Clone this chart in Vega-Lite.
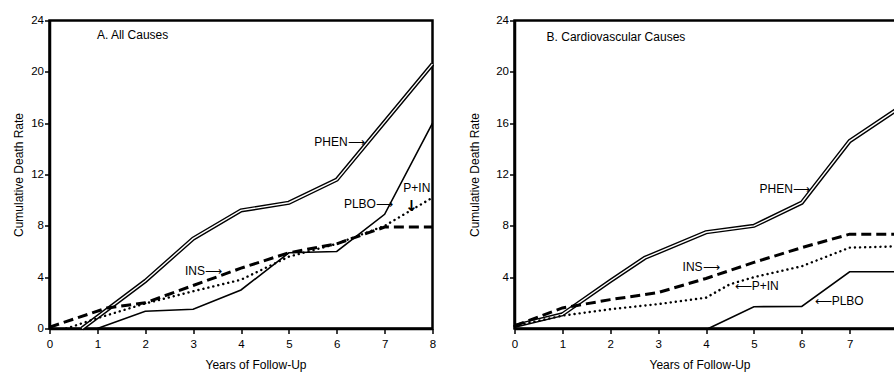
{
  "$schema": "https://vega.github.io/schema/vega-lite/v6.json",
  "background": "white",
  "padding": {"left": 10.5, "top": 12.5, "right": 0, "bottom": 0},
  "spacing": 82,
  "bounds": "flush",
  "config": {
    "font": "Liberation Sans",
    "view": {"stroke": "black", "strokeWidth": 2.5},
    "axis": {
      "grid": false,
      "domainColor": "black",
      "domainWidth": 2.5,
      "tickColor": "black",
      "tickWidth": 1.5,
      "tickSize": 5,
      "labelColor": "black",
      "labelFont": "Liberation Sans",
      "labelFontSize": 11.5,
      "titleColor": "black",
      "titleFont": "Liberation Sans",
      "titleFontSize": 12,
      "titleFontWeight": "normal",
      "labelFlush": false,
      "labelOverlap": false
    },
    "axisX": {"labelPadding": 5, "titlePadding": 9, "labelAngle": 0},
    "axisY": {"labelPadding": 1, "titlePadding": 5}
  },
  "datasets": {
    "curves": [
      {"panel": "A", "series": "PHEN", "x": 0.68, "y": 0},
      {"panel": "A", "series": "PHEN", "x": 1, "y": 0.9},
      {"panel": "A", "series": "PHEN", "x": 2, "y": 3.7},
      {"panel": "A", "series": "PHEN", "x": 3, "y": 7.0},
      {"panel": "A", "series": "PHEN", "x": 4, "y": 9.2},
      {"panel": "A", "series": "PHEN", "x": 5, "y": 9.8},
      {"panel": "A", "series": "PHEN", "x": 6, "y": 11.6},
      {"panel": "A", "series": "PHEN", "x": 7, "y": 16.1},
      {"panel": "A", "series": "PHEN", "x": 8, "y": 20.6},
      {"panel": "A", "series": "PLBO", "x": 1, "y": 0},
      {"panel": "A", "series": "PLBO", "x": 2, "y": 1.35},
      {"panel": "A", "series": "PLBO", "x": 3, "y": 1.5},
      {"panel": "A", "series": "PLBO", "x": 4, "y": 3.0},
      {"panel": "A", "series": "PLBO", "x": 5, "y": 5.9},
      {"panel": "A", "series": "PLBO", "x": 6, "y": 6.0},
      {"panel": "A", "series": "PLBO", "x": 7, "y": 8.9},
      {"panel": "A", "series": "PLBO", "x": 8, "y": 16.0},
      {"panel": "A", "series": "INS", "x": 0, "y": 0.1},
      {"panel": "A", "series": "INS", "x": 1.2, "y": 1.6},
      {"panel": "A", "series": "INS", "x": 2, "y": 2.0},
      {"panel": "A", "series": "INS", "x": 3, "y": 3.35},
      {"panel": "A", "series": "INS", "x": 4, "y": 4.7},
      {"panel": "A", "series": "INS", "x": 5, "y": 5.9},
      {"panel": "A", "series": "INS", "x": 6, "y": 6.6},
      {"panel": "A", "series": "INS", "x": 7, "y": 7.9},
      {"panel": "A", "series": "INS", "x": 8, "y": 7.9},
      {"panel": "A", "series": "P+IN", "x": 0.35, "y": 0},
      {"panel": "A", "series": "P+IN", "x": 1, "y": 0.8},
      {"panel": "A", "series": "P+IN", "x": 2, "y": 1.95},
      {"panel": "A", "series": "P+IN", "x": 3, "y": 2.9},
      {"panel": "A", "series": "P+IN", "x": 4, "y": 3.8},
      {"panel": "A", "series": "P+IN", "x": 5, "y": 5.6},
      {"panel": "A", "series": "P+IN", "x": 6, "y": 6.6},
      {"panel": "A", "series": "P+IN", "x": 7, "y": 8.0},
      {"panel": "A", "series": "P+IN", "x": 8, "y": 10.2},
      {"panel": "B", "series": "PHEN", "x": 0, "y": 0.2},
      {"panel": "B", "series": "PHEN", "x": 1, "y": 1.1},
      {"panel": "B", "series": "PHEN", "x": 2, "y": 3.7},
      {"panel": "B", "series": "PHEN", "x": 2.72, "y": 5.5},
      {"panel": "B", "series": "PHEN", "x": 4, "y": 7.5},
      {"panel": "B", "series": "PHEN", "x": 5, "y": 8.0},
      {"panel": "B", "series": "PHEN", "x": 6, "y": 9.8},
      {"panel": "B", "series": "PHEN", "x": 7, "y": 14.6},
      {"panel": "B", "series": "PHEN", "x": 8, "y": 17.1},
      {"panel": "B", "series": "PLBO", "x": 4.05, "y": 0},
      {"panel": "B", "series": "PLBO", "x": 5, "y": 1.7},
      {"panel": "B", "series": "PLBO", "x": 6, "y": 1.72},
      {"panel": "B", "series": "PLBO", "x": 7, "y": 4.42},
      {"panel": "B", "series": "PLBO", "x": 8, "y": 4.42},
      {"panel": "B", "series": "INS", "x": 0, "y": 0.2},
      {"panel": "B", "series": "INS", "x": 1, "y": 1.6},
      {"panel": "B", "series": "INS", "x": 2, "y": 2.25},
      {"panel": "B", "series": "INS", "x": 3, "y": 2.8},
      {"panel": "B", "series": "INS", "x": 4, "y": 3.9},
      {"panel": "B", "series": "INS", "x": 5, "y": 5.15},
      {"panel": "B", "series": "INS", "x": 6, "y": 6.3},
      {"panel": "B", "series": "INS", "x": 7, "y": 7.35},
      {"panel": "B", "series": "INS", "x": 8, "y": 7.35},
      {"panel": "B", "series": "P+IN", "x": 0, "y": 0.2},
      {"panel": "B", "series": "P+IN", "x": 1, "y": 1.0},
      {"panel": "B", "series": "P+IN", "x": 2, "y": 1.5},
      {"panel": "B", "series": "P+IN", "x": 3, "y": 1.9},
      {"panel": "B", "series": "P+IN", "x": 4, "y": 2.4},
      {"panel": "B", "series": "P+IN", "x": 4.5, "y": 3.45},
      {"panel": "B", "series": "P+IN", "x": 5, "y": 4.0},
      {"panel": "B", "series": "P+IN", "x": 6, "y": 4.85},
      {"panel": "B", "series": "P+IN", "x": 7, "y": 6.3},
      {"panel": "B", "series": "P+IN", "x": 8, "y": 6.4}
    ],
    "notes": [
      {"panel": "A", "kind": "text", "x": 0.99, "y": 22.9, "label": "A. All Causes"},
      {"panel": "A", "kind": "text", "x": 5.53, "y": 14.5, "label": "PHEN⟶"},
      {"panel": "A", "kind": "text", "x": 6.15, "y": 9.73, "label": "PLBO⟶"},
      {"panel": "A", "kind": "text", "x": 7.39, "y": 10.95, "label": "P+IN"},
      {"panel": "A", "kind": "arrow", "x": 7.43, "y": 9.55, "label": "↓"},
      {"panel": "A", "kind": "text", "x": 2.83, "y": 4.46, "label": "INS⟶"},
      {"panel": "B", "kind": "text", "x": 0.67, "y": 22.7, "label": "B. Cardiovascular Causes"},
      {"panel": "B", "kind": "text", "x": 5.12, "y": 10.87, "label": "PHEN⟶"},
      {"panel": "B", "kind": "text", "x": 3.51, "y": 4.77, "label": "INS⟶"},
      {"panel": "B", "kind": "text", "x": 4.6, "y": 3.35, "label": "⟵P+IN"},
      {"panel": "B", "kind": "text", "x": 6.27, "y": 2.18, "label": "⟵PLBO"}
    ]
  },
  "hconcat": [
    {
      "width": 383,
      "height": 308,
      "encoding": {
        "x": {"field": "x", "type": "quantitative", "scale": {"domain": [0, 8], "nice": false, "zero": false},
              "axis": {"title": "Years of Follow-Up", "values": [0, 1, 2, 3, 4, 5, 6, 7, 8], "format": "d", "titleX": 206}},
        "y": {"field": "y", "type": "quantitative", "scale": {"domain": [0, 24], "nice": false},
              "axis": {"title": "Cumulative Death Rate", "values": [0, 4, 8, 12, 16, 20, 24], "format": "d"}}
      },
      "layer": [
        {"data": {"name": "curves"}, "transform": [{"filter": "datum.panel === 'A' && datum.series === 'PHEN'"}],
         "mark": {"type": "line", "color": "black", "strokeWidth": 4.2}},
        {"data": {"name": "curves"}, "transform": [{"filter": "datum.panel === 'A' && datum.series === 'PHEN'"}],
         "mark": {"type": "line", "color": "white", "strokeWidth": 1.4}},
        {"data": {"name": "curves"}, "transform": [{"filter": "datum.panel === 'A' && datum.series === 'PLBO'"}],
         "mark": {"type": "line", "color": "black", "strokeWidth": 1.6}},
        {"data": {"name": "curves"}, "transform": [{"filter": "datum.panel === 'A' && datum.series === 'INS'"}],
         "mark": {"type": "line", "color": "black", "strokeWidth": 3, "strokeDash": [10, 5]}},
        {"data": {"name": "curves"}, "transform": [{"filter": "datum.panel === 'A' && datum.series === 'P+IN'"}],
         "mark": {"type": "line", "color": "black", "strokeWidth": 2.4, "strokeDash": [0.1, 5], "strokeCap": "round"}},
        {"data": {"name": "notes"}, "transform": [{"filter": "datum.panel === 'A' && datum.kind === 'text'"}],
         "mark": {"type": "text", "align": "left", "baseline": "middle", "fontSize": 12, "font": "Liberation Sans", "color": "black"},
         "encoding": {"text": {"field": "label", "type": "nominal"}}},
        {"data": {"name": "notes"}, "transform": [{"filter": "datum.panel === 'A' && datum.kind === 'arrow'"}],
         "mark": {"type": "text", "align": "left", "baseline": "middle", "fontSize": 15, "fontWeight": "bold", "font": "DejaVu Sans", "color": "black"},
         "encoding": {"text": {"field": "label", "type": "nominal"}}}
      ]
    },
    {
      "width": 383,
      "height": 308,
      "encoding": {
        "x": {"field": "x", "type": "quantitative", "scale": {"domain": [0, 8], "nice": false, "zero": false},
              "axis": {"title": "Years of Follow-Up", "values": [0, 1, 2, 3, 4, 5, 6, 7, 8], "format": "d", "titleX": 185}},
        "y": {"field": "y", "type": "quantitative", "scale": {"domain": [0, 24], "nice": false},
              "axis": {"title": "Cumulative Death Rate", "values": [4, 8, 12, 16, 20, 24], "format": "d", "titlePadding": 14}}
      },
      "layer": [
        {"data": {"name": "curves"}, "transform": [{"filter": "datum.panel === 'B' && datum.series === 'PHEN'"}],
         "mark": {"type": "line", "color": "black", "strokeWidth": 4.2}},
        {"data": {"name": "curves"}, "transform": [{"filter": "datum.panel === 'B' && datum.series === 'PHEN'"}],
         "mark": {"type": "line", "color": "white", "strokeWidth": 1.4}},
        {"data": {"name": "curves"}, "transform": [{"filter": "datum.panel === 'B' && datum.series === 'PLBO'"}],
         "mark": {"type": "line", "color": "black", "strokeWidth": 1.6}},
        {"data": {"name": "curves"}, "transform": [{"filter": "datum.panel === 'B' && datum.series === 'INS'"}],
         "mark": {"type": "line", "color": "black", "strokeWidth": 3, "strokeDash": [10, 5]}},
        {"data": {"name": "curves"}, "transform": [{"filter": "datum.panel === 'B' && datum.series === 'P+IN'"}],
         "mark": {"type": "line", "color": "black", "strokeWidth": 2.4, "strokeDash": [0.1, 5], "strokeCap": "round"}},
        {"data": {"name": "notes"}, "transform": [{"filter": "datum.panel === 'B'"}],
         "mark": {"type": "text", "align": "left", "baseline": "middle", "fontSize": 12, "font": "Liberation Sans", "color": "black"},
         "encoding": {"text": {"field": "label", "type": "nominal"}}}
      ]
    }
  ]
}
